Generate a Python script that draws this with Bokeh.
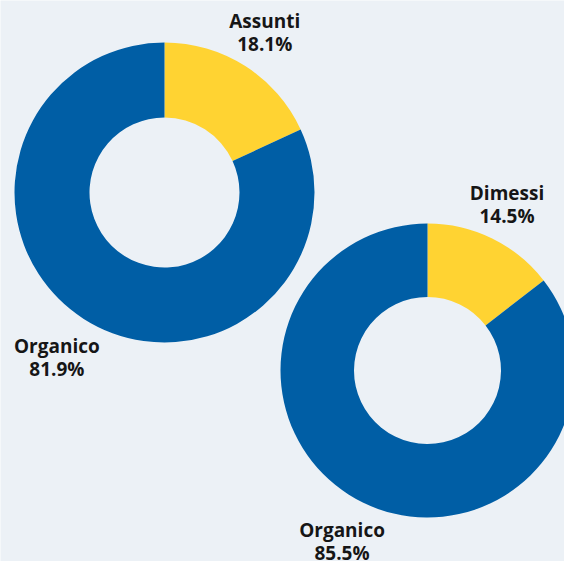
import math
from bokeh.plotting import figure
from bokeh.models import Range1d, ColumnDataSource
from bokeh.core.properties import value
from bokeh.embed import file_html
from bokeh.resources import INLINE

# ---- data ----
donut1_labels = ["Assunti", "Organico"]
donut1_values = [18.1, 81.9]
donut2_labels = ["Dimessi", "Organico"]
donut2_values = [14.5, 85.5]
slice_colors = ["#FFD332", "#005EA5"]

# ---- layout (screen px -> data: x = sx, y = 561 - sy) ----
W, H = 564, 561
BG = "#ECF1F6"
p = figure(width=W, height=H, output_backend="svg", toolbar_location=None,
           x_range=Range1d(0, W), y_range=Range1d(0, H),
           min_border=0, background_fill_color=BG, border_fill_color=BG,
           outline_line_color=None)
p.axis.visible = False
p.grid.visible = False

donuts = [
    dict(labels=donut1_labels, values=donut1_values, cx=164, cy=H - 192,
         r_out=150, r_in=75, r_lab=[188, 198]),
    dict(labels=donut2_labels, values=donut2_values, cx=427, cy=H - 370,
         r_out=147, r_in=73.5, r_lab=[183, 192]),
]

FONT = value("Open Sans")
for d in donuts:
    total = sum(d["values"])
    starts, ends, mids = [], [], []
    cum = 0.0
    for v in d["values"]:
        a0 = cum / total * 2 * math.pi
        cum += v
        a1 = cum / total * 2 * math.pi
        starts.append(math.pi / 2 - a0)
        ends.append(math.pi / 2 - a1)
        mids.append((a0 + a1) / 2)
    src = ColumnDataSource(dict(start=starts, end=ends, color=slice_colors))
    p.annular_wedge(x=d["cx"], y=d["cy"], inner_radius=d["r_in"], outer_radius=d["r_out"],
                    start_angle="start", end_angle="end", direction="clock",
                    fill_color="color", line_color=None, source=src)
    lx, ly_name, ly_pct, names, pcts = [], [], [], [], []
    for lab, v, m, rl in zip(d["labels"], d["values"], mids, d["r_lab"]):
        ax = d["cx"] + rl * math.sin(m)
        ay = d["cy"] + rl * math.cos(m)
        lx.append(ax - 1)
        ly_name.append(ay + 13)
        ly_pct.append(ay - 10)
        names.append(lab)
        pcts.append(f"{v:.1f}%")
    p.text(x=lx, y=ly_name, text=names, text_font=FONT, text_font_style="bold",
           text_font_size="19px", text_align="center", text_baseline="alphabetic",
           text_color="#161616")
    p.text(x=lx, y=ly_pct, text=pcts, text_font=FONT, text_font_style="bold",
           text_font_size="19px", text_align="center", text_baseline="alphabetic",
           text_color="#161616")

open("out.html", "w").write(file_html(p, INLINE))
